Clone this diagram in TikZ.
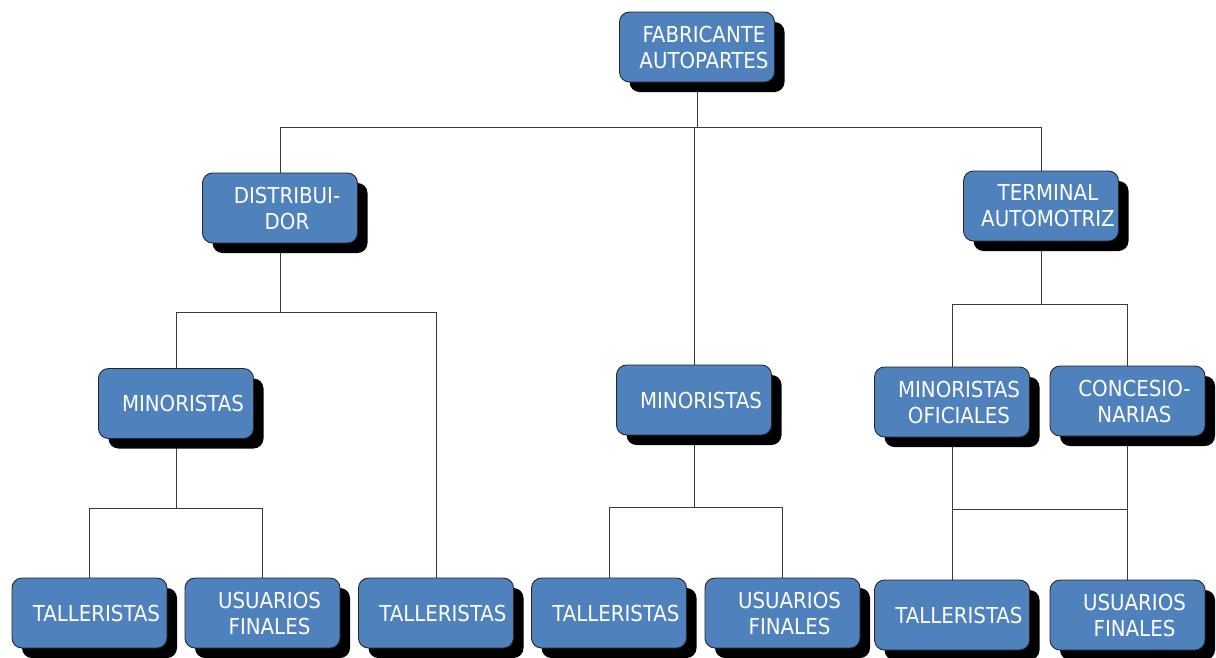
\documentclass[tikz,border=0pt]{standalone}
\usepackage{fontspec}
\setmainfont{DejaVu Sans Condensed}
\usetikzlibrary{shadows}
\pgfdeclarelayer{wires}
\pgfsetlayers{wires,main}
\definecolor{boxblue}{HTML}{4F81BD}
\definecolor{wire}{HTML}{3A3A3A}
\begin{document}
\begin{tikzpicture}[x=1pt,y=-1pt,
  box/.style={draw=black!85, line width=0.9pt, fill=boxblue,
    rounded corners=10pt, minimum width=155pt, minimum height=70pt,
    inner sep=0pt,
    drop shadow={shadow xshift=10pt, shadow yshift=-10pt, fill=black, opacity=1}},
  txt/.style={text=white, align=center, xshift=7pt, inner sep=0pt,
    font=\fontsize{22}{26}\selectfont},
  link/.style={draw=wire, line width=0.9pt}]
\useasboundingbox (0,0) rectangle (1216,657);

% top level
\node[box, label={[txt]center:{FABRICANTE\\AUTOPARTES}}] (fab) at (697,47) {};

% second level
\node[box, label={[txt]center:{DISTRIBUI-\\DOR}}] (dist) at (280,208) {};
\node[box, label={[txt]center:{TERMINAL\\AUTOMOTRIZ}}] (term) at (1041,206) {};

% third level
\node[box, label={[txt]center:{MINORISTAS}}] (minL) at (176,403.5) {};
\node[box, label={[txt]center:{MINORISTAS}}] (minM) at (694,400) {};
\node[box, label={[txt]center:{MINORISTAS\\OFICIALES}}] (minO) at (952,402) {};
\node[box, label={[txt]center:{CONCESIO-\\NARIAS}}] (conc) at (1127.5,401) {};

% bottom level
\node[box, label={[txt]center:{TALLERISTAS}}] (t1) at (89.5,613) {};
\node[box, label={[txt]center:{USUARIOS\\FINALES}}] (u1) at (262.5,613) {};
\node[box, label={[txt]center:{TALLERISTAS}}] (t2) at (436,613) {};
\node[box, label={[txt]center:{TALLERISTAS}}] (t3) at (609,613) {};
\node[box, label={[txt]center:{USUARIOS\\FINALES}}] (u2) at (782.5,613) {};
\node[box, label={[txt]center:{TALLERISTAS}}] (t4) at (952,615) {};
\node[box, label={[txt]center:{USUARIOS\\FINALES}}] (u3) at (1127.5,615) {};

% bus heights
\coordinate (busA) at (0,127);
\coordinate (busB) at (0,312);
\coordinate (busC) at (0,508);
\coordinate (busD) at (0,507);
\coordinate (busE) at (0,304);
\coordinate (busF) at (0,509);

\begin{pgfonlayer}{wires}
  % fabricante
  \draw[link] (fab.south) -- (fab.south |- busA);
  \draw[link] (dist.north) -- (dist.north |- busA) -- (term.north |- busA) -- (term.north);
  \draw[link] (minM.north |- busA) -- (minM.north);
  % distribuidor
  \draw[link] (dist.south) -- (dist.south |- busB);
  \draw[link] (minL.north) -- (minL.north |- busB) -- (t2.north |- busB) -- (t2.north);
  % minoristas (left)
  \draw[link] (minL.south) -- (minL.south |- busC);
  \draw[link] (t1.north) -- (t1.north |- busC) -- (u1.north |- busC) -- (u1.north);
  % minoristas (middle)
  \draw[link] (minM.south) -- (minM.south |- busD);
  \draw[link] (t3.north) -- (t3.north |- busD) -- (u2.north |- busD) -- (u2.north);
  % terminal automotriz
  \draw[link] (term.south) -- (term.south |- busE);
  \draw[link] (minO.north) -- (minO.north |- busE) -- (conc.north |- busE) -- (conc.north);
  % oficiales / concesionarias
  \draw[link] (minO.south) -- (t4.north);
  \draw[link] (conc.south) -- (u3.north);
  \draw[link] (t4.north |- busF) -- (u3.north |- busF);
\end{pgfonlayer}
\end{tikzpicture}
\end{document}
